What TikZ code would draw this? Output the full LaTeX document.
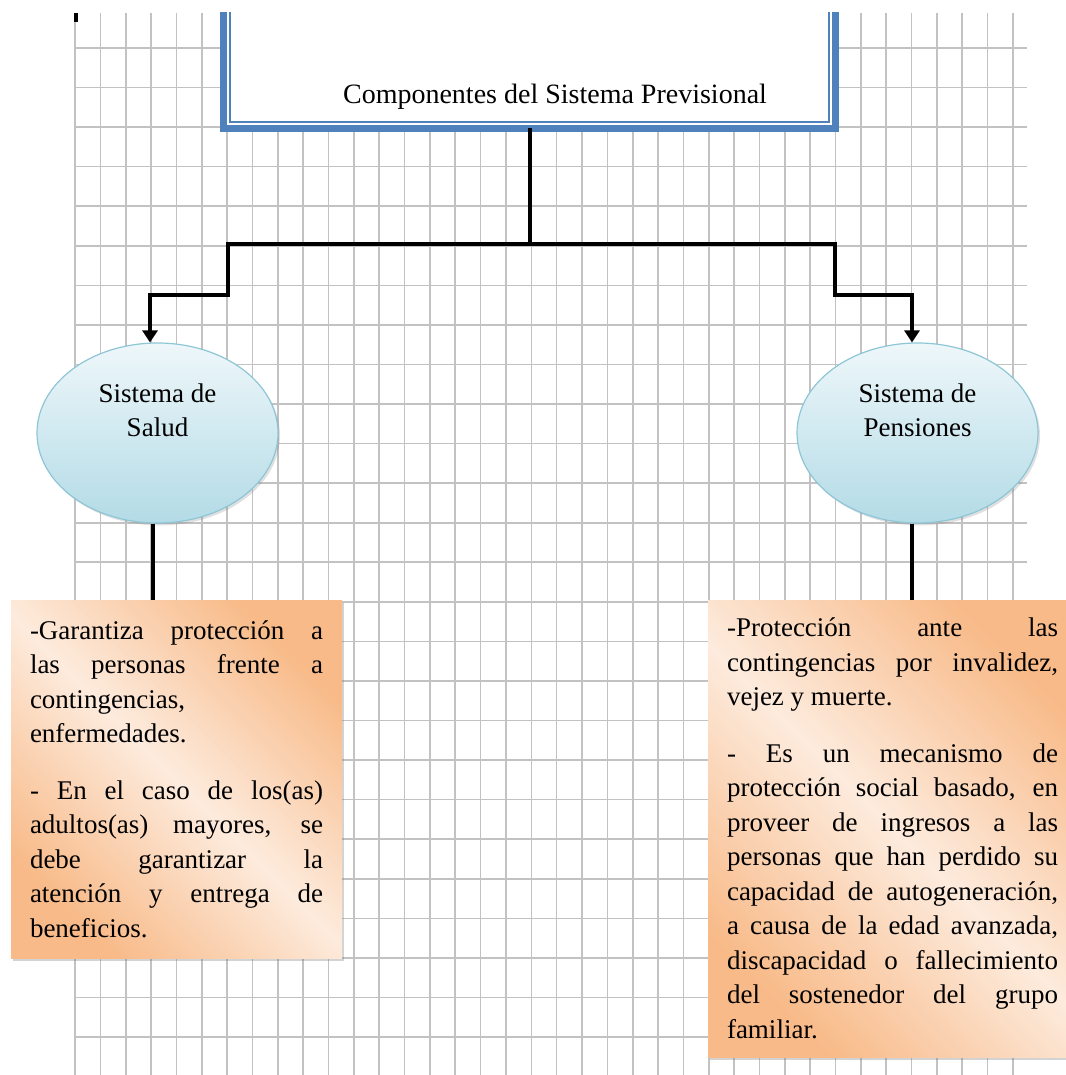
\documentclass[tikz,border=0pt]{standalone}
\usepackage{fontspec}
\setmainfont{Liberation Serif}
\usetikzlibrary{positioning, arrows.meta, shapes.geometric, shadows}

\definecolor{gridgray}{HTML}{C2C2C2}
\definecolor{frameblue}{HTML}{4F81BD}
\definecolor{ovaltop}{HTML}{EEF7FA}
\definecolor{ovalbot}{HTML}{B3DBE6}
\definecolor{ovalline}{HTML}{8EC6D6}
\definecolor{notedark}{HTML}{F8BA88}
\definecolor{notelight}{HTML}{FDEBDD}

\tikzset{
  gridline/.style = {gridgray, line width=0.8pt},
  conn/.style = {line width=2pt},
  frame/.style = {draw=frameblue, line width=3.5pt, fill=white, outer sep=0pt,
    minimum width=306pt, minimum height=69.25pt},
  oval/.style = {ellipse, draw=ovalline, line width=0.6pt, inner sep=0pt,
    minimum width=120.5pt, minimum height=90pt,
    top color=ovaltop, bottom color=ovalbot, align=center,
    font=\fontsize{13.5}{17}\selectfont,
    drop shadow={shadow xshift=1pt, shadow yshift=-1.2pt, opacity=0.25}},
  note/.style = {rectangle, inner xsep=9.5pt, inner ysep=0pt, outer sep=0pt,
    top color=notedark, bottom color=notedark, middle color=notelight,
    shading angle=-45, align=justify,
    font=\fontsize{13.5}{17.25}\selectfont,
    drop shadow={shadow xshift=1.2pt, shadow yshift=-1.5pt, opacity=0.35}}
}

\begin{document}
\begin{tikzpicture}[x=0.5pt, y=-0.5pt, >={Triangle[length=6pt, width=7.5pt]}]
  \useasboundingbox (0,0) rectangle (1065,1075);

  % squared paper
  \begin{scope}
    \clip (74,13) rectangle (1028,1075);
    \foreach \i in {0,...,37}
      \draw[gridline] ({75+25.35*\i},13) -- ({75+25.35*\i},1075);
    \foreach \j in {0,...,25}
      \draw[gridline] (75,{48+39.56*\j}) -- (1027,{48+39.56*\j});
  \end{scope}
  \draw[line width=2pt] (76,13) -- (76,22);

  % title frame, cut at the top
  \begin{scope}
    \clip (0,13) rectangle (1065,1075);
    \node[frame] (comp) at (529.5,59.25) {};
    \draw[frameblue, line width=0.9pt]
      ([shift={(6.5,0)}]comp.north west) rectangle ([shift={(-6.5,-6.5)}]comp.south east);
  \end{scope}
  \node[font=\fontsize{14}{17}\selectfont] (title) at (555,97) {Componentes del Sistema Previsional};

  \node[oval] (salud) at (157.5,433) {Sistema de\\Salud\\[6pt]~};
  \node[oval] (pension) at (917.5,433) {Sistema de\\Pensiones\\[6pt]~};

  \coordinate (jl) at (228,244);
  \coordinate (jr) at (835,244);
  \coordinate (sl) at (150,295);
  \coordinate (sr) at (912,295);

  \draw[conn, ->] (comp.south) |- (jl) |- (sl) -- (sl |- salud.north);
  \draw[conn, ->] (comp.south) |- (jr) |- (sr) -- (sr |- pension.north);

  \node[note, text width=146.5pt, minimum height=179pt] (salbox) at (176.5,779)
    {-Garantiza protección a\linebreak las personas frente a\linebreak
     contingencias,\newline enfermedades.\par\vspace{11pt}
     - En el caso de los(as)\linebreak adultos(as) mayores, se\linebreak
     debe garantizar la\linebreak atención y entrega de\linebreak beneficios.};
  \node[note, text width=165.5pt, minimum height=228.5pt] (penbox) at (892.5,828.5)
    {-Protección ante las\linebreak contingencias por invalidez,\linebreak
     vejez y muerte.\par\vspace{11pt}
     - Es un mecanismo de\linebreak protección social basado, en\linebreak
     proveer de ingresos a las\linebreak personas que han perdido su\linebreak
     capacidad de autogeneración,\linebreak a causa de la edad avanzada,\linebreak
     discapacidad o fallecimiento\linebreak del sostenedor del grupo\linebreak
     familiar.};

  \draw[conn] ([xshift=-2.5pt]salud.south) -- ([xshift=-2.5pt]salud.south |- salbox.north);
  \draw[conn] ([xshift=-3pt]pension.south) -- ([xshift=-3pt]pension.south |- penbox.north);
\end{tikzpicture}
\end{document}
